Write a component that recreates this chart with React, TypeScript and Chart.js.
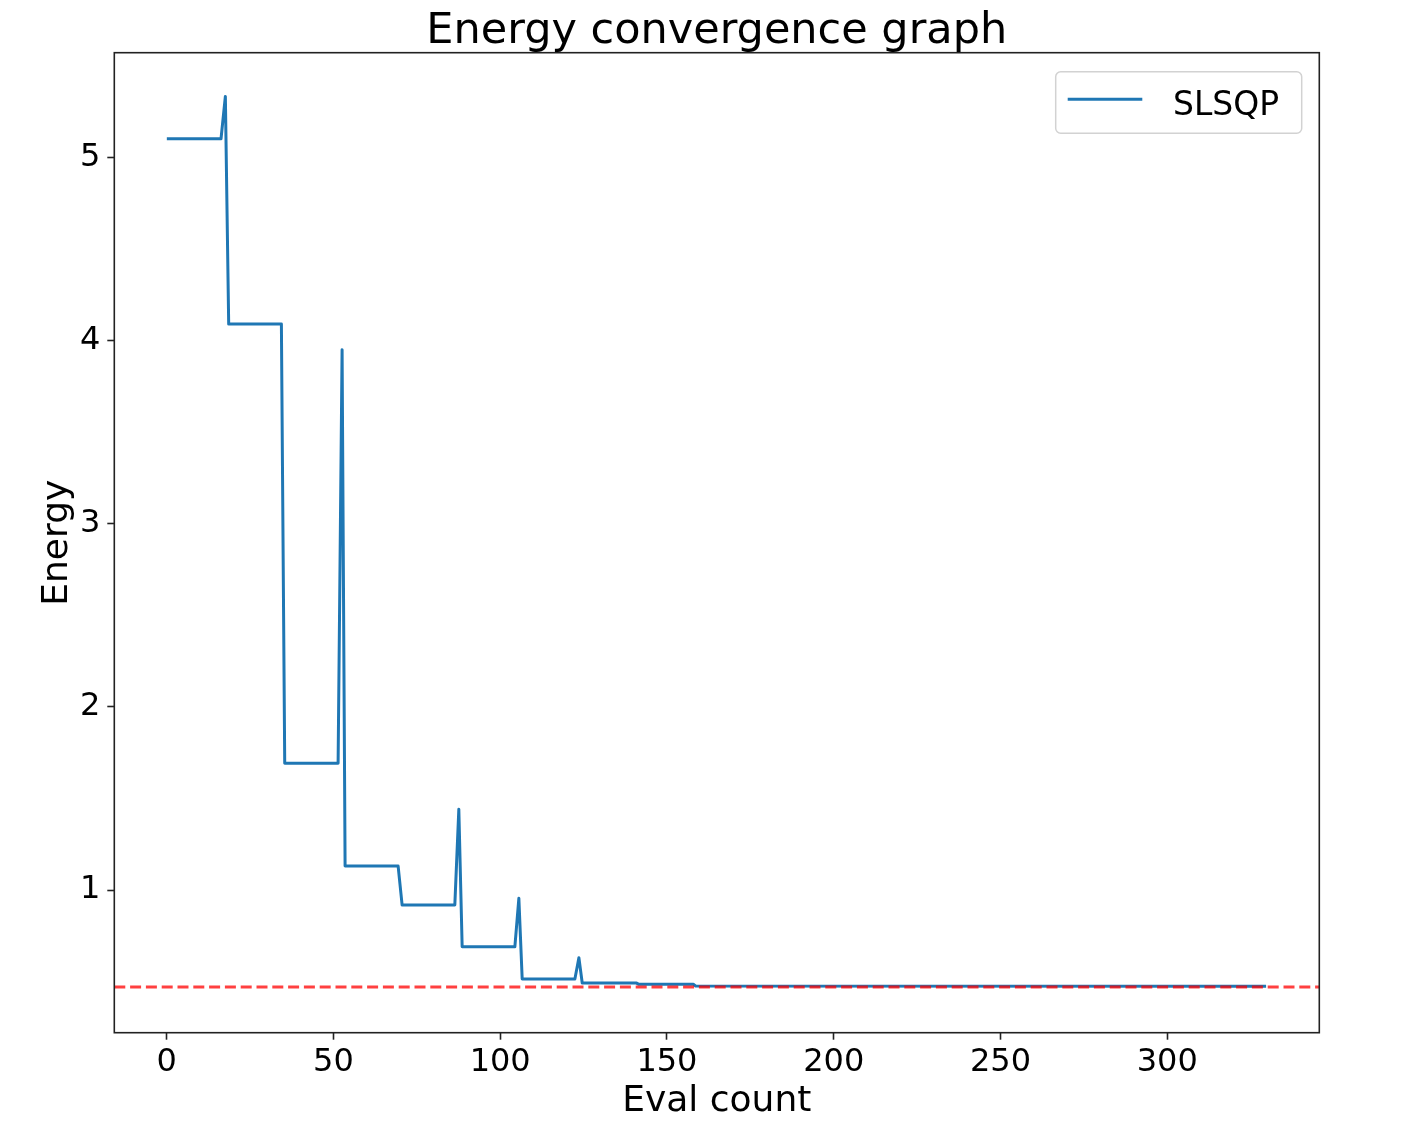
import { useEffect, useRef } from 'react';
import { Chart, registerables } from 'chart.js';
import type { Plugin } from 'chart.js';

Chart.register(...registerables);

// vertices of the SLSQP energy trace (eval count, energy)
const evalCounts = [
  0.5, 16.3, 17.6, 18.6, 34.4, 35.4, 51.4, 52.6, 53.5, 69.4, 70.6, 86.4, 87.6,
  88.6, 104.4, 105.6, 106.6, 122.4, 123.6, 124.6, 140.9, 141.6, 157.9, 158.6,
  329.2,
];
const energies = [
  5.102, 5.102, 5.333, 4.09, 4.09, 1.692, 1.692, 3.95, 1.131, 1.131, 0.918,
  0.918, 1.441, 0.69, 0.69, 0.955, 0.514, 0.514, 0.63, 0.492, 0.492, 0.485,
  0.485, 0.476, 0.474,
];
const referenceEnergy = 0.47;

const xTicks = [0, 50, 100, 150, 200, 250, 300];
const yTicks = [1, 2, 3, 4, 5];
const xRange = [-15.7, 345.6];
const yRange = [0.221, 5.572];

const seriesLabel = 'SLSQP';
const titleText = 'Energy convergence graph';

const FONT = "'DejaVu Sans', sans-serif";
const AXIS_COLOR = '#222';

const framePlugin: Plugin<'line'> = {
  id: 'frame',
  afterDatasetsDraw(chart) {
    const { ctx, chartArea: a } = chart;
    ctx.save();
    ctx.strokeStyle = AXIS_COLOR;
    ctx.lineWidth = 1.6;
    ctx.strokeRect(a.left, a.top, a.right - a.left, a.bottom - a.top);
    ctx.restore();
  },
};

const titlePlugin: Plugin<'line'> = {
  id: 'axesTitle',
  afterDraw(chart) {
    const { ctx, chartArea: a } = chart;
    ctx.save();
    ctx.font = `43px ${FONT}`;
    ctx.fillStyle = '#000';
    ctx.textAlign = 'center';
    ctx.textBaseline = 'alphabetic';
    ctx.fillText(titleText, (a.left + a.right) / 2, a.top - 9.4);
    ctx.restore();
  },
};

const legendPlugin: Plugin<'line'> = {
  id: 'insideLegend',
  afterDraw(chart) {
    const { ctx, chartArea: a } = chart;
    const ds = chart.data.datasets[0];
    const w = 246;
    const h = 61.6;
    const x = a.right - 17.6 - w;
    const y = a.top + 19;
    ctx.save();
    ctx.beginPath();
    ctx.roundRect(x, y, w, h, 5);
    ctx.fillStyle = 'rgba(255,255,255,0.8)';
    ctx.fill();
    ctx.strokeStyle = '#d2d2d2';
    ctx.lineWidth = 1.5;
    ctx.stroke();

    ctx.beginPath();
    ctx.moveTo(x + 12, y + 27.6);
    ctx.lineTo(x + 86.6, y + 27.6);
    ctx.strokeStyle = ds.borderColor as string;
    ctx.lineWidth = 3;
    ctx.stroke();

    ctx.font = `33px ${FONT}`;
    ctx.fillStyle = '#000';
    ctx.textBaseline = 'alphabetic';
    ctx.fillText(String(ds.label), x + 117.3, y + 43.3);
    ctx.restore();
  },
};

export default function App() {
  const canvasRef = useRef<HTMLCanvasElement>(null);

  useEffect(() => {
    const canvas = canvasRef.current;
    if (!canvas) return undefined;

    const chart = new Chart(canvas, {
      type: 'line',
      data: {
        datasets: [
          {
            label: seriesLabel,
            data: evalCounts.map((x, i) => ({ x, y: energies[i] })),
            borderColor: '#1f77b4',
            borderWidth: 3,
            borderJoinStyle: 'round',
            borderCapStyle: 'square',
            pointRadius: 0,
            tension: 0,
            order: 1,
          },
          {
            label: 'reference',
            data: xRange.map((x) => ({ x, y: referenceEnergy })),
            borderColor: 'rgba(255,0,0,0.75)',
            borderWidth: 3,
            borderDash: [11, 4.8],
            pointRadius: 0,
            order: 0,
          },
        ],
      },
      options: {
        animation: false,
        responsive: true,
        maintainAspectRatio: false,
        layout: { padding: { top: 52.7, right: 92.7, left: 0, bottom: 0 } },
        plugins: {
          legend: { display: false },
          tooltip: { enabled: false },
          title: { display: false },
        },
        scales: {
          x: {
            type: 'linear',
            min: xRange[0],
            max: xRange[1],
            afterFit: (scale) => {
              scale.height = 105.3;
            },
            afterBuildTicks: (scale) => {
              scale.ticks = xTicks.map((value) => ({ value }));
            },
            border: { display: false },
            grid: {
              drawOnChartArea: false,
              drawTicks: true,
              tickLength: 7,
              tickColor: AXIS_COLOR,
              tickWidth: 1.6,
            },
            ticks: {
              padding: 3.5,
              maxRotation: 0,
              color: '#000',
              font: { family: FONT, size: 32 },
            },
            title: {
              display: true,
              text: 'Eval count',
              color: '#000',
              font: { family: FONT, size: 36 },
              padding: { top: 0, bottom: 14.8 },
            },
          },
          y: {
            type: 'linear',
            min: yRange[0],
            max: yRange[1],
            afterFit: (scale) => {
              scale.width = 114.3;
            },
            afterBuildTicks: (scale) => {
              scale.ticks = yTicks.map((value) => ({ value }));
            },
            border: { display: false },
            grid: {
              drawOnChartArea: false,
              drawTicks: true,
              tickLength: 7,
              tickColor: AXIS_COLOR,
              tickWidth: 1.6,
            },
            ticks: {
              padding: 7,
              color: '#000',
              font: { family: FONT, size: 32 },
            },
            title: {
              display: true,
              text: 'Energy',
              color: '#000',
              font: { family: FONT, size: 36 },
              padding: { top: 36, bottom: 0 },
            },
          },
        },
      },
      plugins: [framePlugin, titlePlugin, legendPlugin],
    });

    return () => {
      chart.destroy();
    };
  }, []);

  return (
    <div
      style={{
        position: 'fixed',
        left: 0,
        top: 0,
        width: 1412,
        height: 1138,
        background: '#fff',
      }}
    >
      <canvas ref={canvasRef} role="img" aria-label={titleText} />
    </div>
  );
}
